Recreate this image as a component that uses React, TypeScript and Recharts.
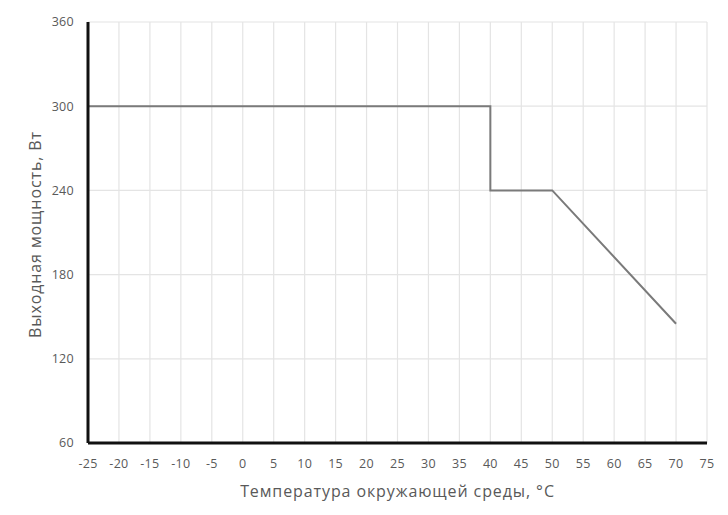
import React from 'react';
import { LineChart, Line, XAxis, YAxis, CartesianGrid } from 'recharts';

const temperatures = [-25, 40, 40, 50, 70];
const powers = [300, 300, 240, 240, 145];
const xTicks = [-25, -20, -15, -10, -5, 0, 5, 10, 15, 20, 25, 30, 35, 40, 45, 50, 55, 60, 65, 70, 75];
const yTicks = [60, 120, 180, 240, 300, 360];
const xTitle = 'Температура окружающей среды, °C';
const yTitle = 'Выходная мощность, Вт';

const data = temperatures.map((t, i) => ({ t, p: powers[i] }));

const FONT = '"Open Sans", "Noto Sans", sans-serif';
const TEXT_COLOR = '#595959';

const YTitle = (props: any) => {
  const vb = props.viewBox || {};
  const cx = 35;
  const cy = vb.y + vb.height / 2 + 2;
  return (
    <g>
      <polyline points="6,515 6,6.5 726.5,6.5 726.5,515" fill="none" stroke="#8a8a8a" strokeWidth={2} />
      <text x={cx} y={cy} transform={`rotate(-90, ${cx}, ${cy})`} textAnchor="middle" dominantBaseline="central"
        fill={TEXT_COLOR} fontSize={16} letterSpacing={0.9} fontFamily={FONT}>{yTitle}</text>
    </g>
  );
};

const XTitle = (props: any) => {
  const vb = props.viewBox || {};
  const cx = vb.x + vb.width / 2;
  return (
    <text x={cx} y={491} textAnchor="middle" dominantBaseline="central"
      fill={TEXT_COLOR} fontSize={16} letterSpacing={0.9} fontFamily={FONT}>{xTitle}</text>
  );
};

export default function App() {
  return (
    <div style={{ position: 'relative', width: 728, height: 515, marginLeft: -8, marginTop: -8, background: '#fff' }}>
      <LineChart width={728} height={515} data={data} margin={{ top: 22, right: 21, bottom: 42, left: 28 }}>
        <CartesianGrid stroke="#e4e4e4" strokeWidth={1.2} />
        <XAxis
          dataKey="t"
          type="number"
          domain={[-25, 75]}
          ticks={xTicks}
          interval={0}
          height={30}
          axisLine={{ stroke: '#111', strokeWidth: 3 }}
          tickLine={false}
          tickMargin={10}
          tick={{ fill: TEXT_COLOR, fontSize: 12.5, fontFamily: FONT, letterSpacing: 0.3 }}
          label={{ content: XTitle }}
        />
        <YAxis
          type="number"
          domain={[60, 360]}
          ticks={yTicks}
          interval={0}
          width={60}
          axisLine={{ stroke: '#111', strokeWidth: 3 }}
          tickLine={false}
          tickMargin={8}
          tick={{ fill: TEXT_COLOR, fontSize: 12.5, fontFamily: FONT, letterSpacing: 0.3 }}
          label={{ content: YTitle }}
        />
        <Line type="linear" dataKey="p" stroke="#7a7a7a" strokeWidth={2} dot={false} isAnimationActive={false} />
      </LineChart>
    </div>
  );
}
